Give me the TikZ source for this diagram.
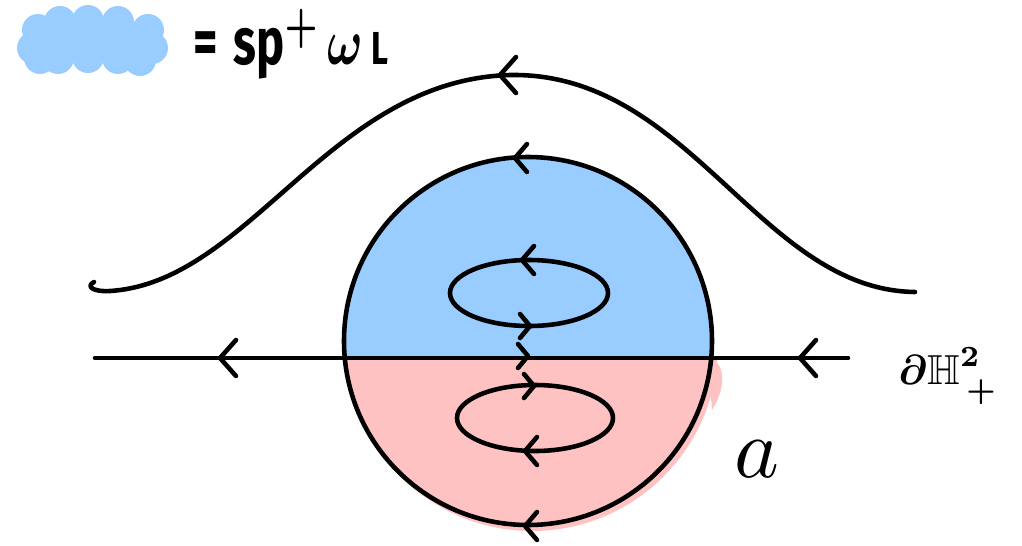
\documentclass[tikz,border=0pt]{standalone}
\usepackage{amssymb}
\usepackage{amsmath}
\usepackage{fontspec}
\setsansfont{Fira Sans}
\definecolor{skyb}{RGB}{153,204,255}
\definecolor{pinkr}{RGB}{255,194,194}
\begin{document}
\begin{tikzpicture}[x=0.02cm,y=-0.02cm,
  stroke/.style={line width=2.6pt,line cap=round,line join=round},
  chevL/.pic={\draw[stroke] (16,-18) -- (0,0) -- (16,18);},
  smallchevL/.pic={\draw[stroke] (12,-14) -- (0,0) -- (12,14);},
  smallchevR/.pic={\draw[stroke] (-10,-12) -- (0,0) -- (-10,12);},
  lbl/.style={inner sep=0pt,font=\sffamily\bfseries}]
\useasboundingbox (0,0) rectangle (1022,545);
\coordinate (c) at (528,341);
% fills
\begin{scope}
  \clip (0,358) rectangle (1022,545);
  \fill[pinkr] (532,345) circle (186);
  \fill[pinkr] (708,358) .. controls (724,360) and (728,385) .. (712,410) -- cycle;
\end{scope}
\begin{scope}
  \clip (0,0) rectangle (1022,358);
  \fill[skyb] (c) circle (184);
\end{scope}
% legend blob
\fill[skyb] (40,22) rectangle (150,58);
\foreach \p in {(38,30),(33,48),(60,22),(88,21),(118,22),(148,30),(152,48),(58,58),(88,57),(118,58),(140,60),(40,58)}
  \fill[skyb] \p circle (16);
\node[lbl,anchor=west] (leg) at (193,44) {\resizebox{3.9cm}{!}{\scalebox{1}[1.4]{=\,\,sp$^{\boldsymbol{+}}$\,$\boldsymbol{\omega}$\,{\fontsize{7}{7}\selectfont L}}}};
% circle
\draw[stroke] (c) circle (184);
% axis
\coordinate (axL) at (95,358);
\coordinate (axR) at (848,358);
\draw[stroke] (axL) -- (axR);
% bell curve
\draw[stroke] (94,282) .. controls (86,286) and (92,292) .. (110,291) .. controls (250,282) and (330,80) .. (510,75) .. controls (690,72) and (760,290) .. (915,292);
% ellipses
\draw[stroke] (529,293) ellipse[x radius=79,y radius=33];
\draw[stroke] (535,418) ellipse[x radius=78,y radius=33];
% chevrons
\pic at (500,75) {chevL};
\pic at (515,158) {smallchevL};
\pic at (525,526) {smallchevL};
\pic at (220,358) {chevL};
\pic at (800,358) {chevL};
\pic at (522,260) {smallchevL};
\pic at (530,326) {smallchevR};
\pic at (528,356) {smallchevR};
\pic at (534,386) {smallchevR};
\pic at (525,451) {smallchevL};
% labels
\node[inner sep=0pt,anchor=west] (bd) at (898,376) {\resizebox{1.95cm}{!}{$\boldsymbol{\partial\mathbb{H}}$\raisebox{4.5pt}{$\scriptstyle\boldsymbol{2}$}\kern-3pt\raisebox{-3.5pt}{$\scriptstyle\boldsymbol{+}$}}};
\node[inner sep=0pt] (a) at (757,459) {\resizebox{0.9cm}{!}{$a$}};
\end{tikzpicture}
\end{document}
